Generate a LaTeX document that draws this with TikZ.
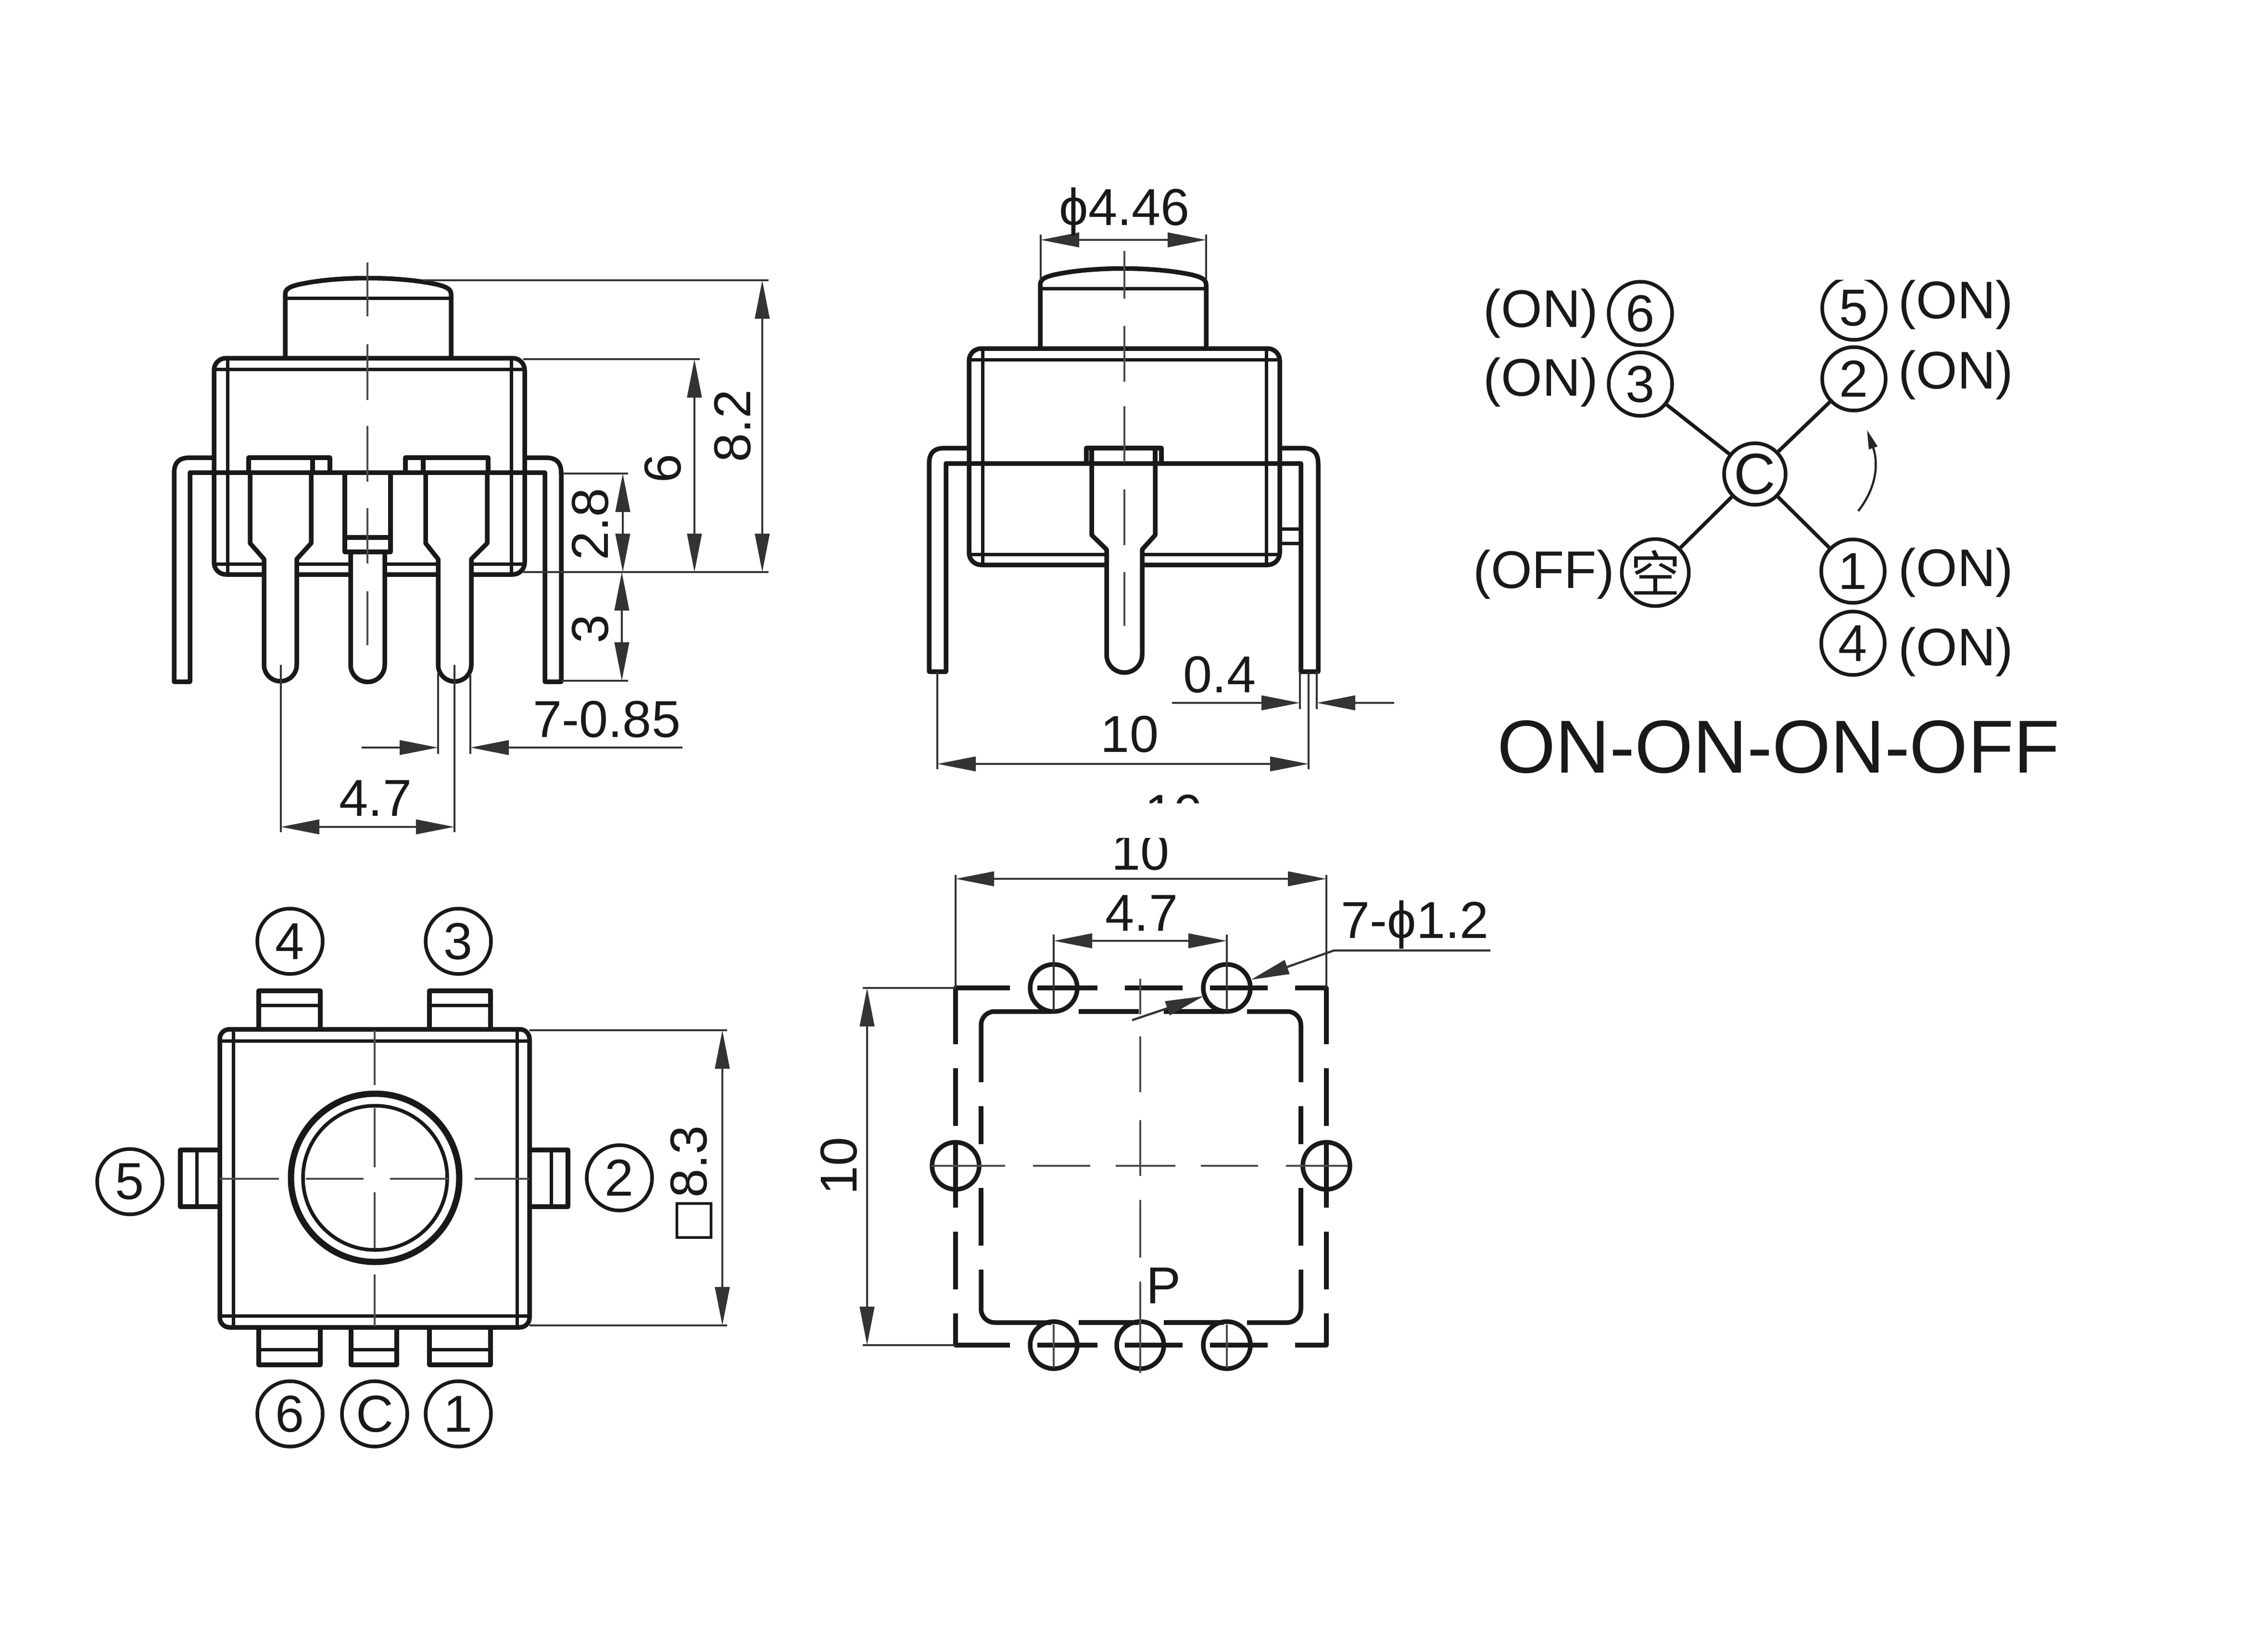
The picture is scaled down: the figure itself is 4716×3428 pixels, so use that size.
\documentclass[tikz,border=0pt]{standalone}
\usepackage{fontspec}
\setmainfont{Liberation Sans}
\newfontfamily\cjk{Noto Sans CJK SC}
\newfontfamily\symfont{DejaVu Sans}
\usetikzlibrary{arrows.meta, positioning}

% housing of the side views, #1 is the top left corner of the body
\newcommand{\housing}[1]{
  \begin{scope}[shift={(#1)}]
    \draw[part, rounded corners=2.5pt] (0,0) rectangle (646,450);
    \draw[part, line width=.7pt] (28,0) -- (28,450) (618,0) -- (618,450) (0,23) -- (646,23) (0,428) -- (646,428);
    \draw[part] (148,0) -- (148,-133) .. controls (148,-145) and (160,-149) .. (175,-153)
      .. controls (255,-171) and (385,-171) .. (465,-153) .. controls (480,-149) and (493,-145) .. (493,-133) -- (493,0);
    \draw[part, line width=.7pt] (148,-125) -- (493,-125);
  \end{scope}
}

\begin{document}
\begin{tikzpicture}[
    x=0.1pt, y=-0.1pt,
    part/.style={line width=.95pt, draw=black!90, line join=round},
    thinln/.style={line width=.45pt, draw=black!80},
    centerln/.style={line width=.45pt, draw=black!70},
    dimln/.style={line width=.45pt, draw=black!80, {Stealth[length=8pt,width=3pt,inset=0pt]}-{Stealth[length=8pt,width=3pt,inset=0pt]}},
    leader/.style={line width=.45pt, draw=black!80, -{Stealth[length=8pt,width=3pt,inset=0pt]}},
    dimtext/.style={inner sep=0pt, text=black!90, font=\fontsize{10.8}{12}\selectfont},
    pinmark/.style={circle, draw=black!90, line width=.75pt, minimum size=13.2pt, inner sep=0pt, text=black!90, font=\fontsize{10.8}{11}\selectfont},
    statetext/.style={inner sep=0pt, text=black!90, font=\fontsize{11}{12}\selectfont},
    wire/.style={line width=.75pt, draw=black!90}
]
\useasboundingbox (0,0) rectangle (4716,3428);
\fill[white] (0,0) rectangle (4716,3428);

% front view
\housing{445,745}
\draw[part, fill=white] (520,983) -- (520,1130) -- (549,1163) -- (549,1383) arc (180:0:34) -- (617,1163) -- (647,1130) -- (647,983);
\draw[part, fill=white] (885,983) -- (885,1130) -- (911,1163) -- (911,1383) arc (180:0:34.5) -- (980,1163) -- (1013,1130) -- (1013,983);
\draw[part, fill=white] (729,1148) -- (729,1383) arc (180:0:35.5) -- (800,1148);
\draw[part] (717,983) -- (717,1148) -- (812,1148) -- (812,983) (717,1118) -- (812,1118);
\draw[part] (517,983) -- (517,952) -- (686,952) -- (686,983) (650,952) -- (650,983);
\draw[part] (843,983) -- (843,952) -- (1015,952) -- (1015,983) (880,952) -- (880,983);
\draw[part] (445,952) -- (395,952) .. controls (372,952) and (362,962) .. (362,985) -- (362,1418) -- (395,1418) -- (395,983) -- (1133,983) -- (1133,1418) -- (1167,1418) -- (1167,985) .. controls (1167,962) and (1157,952) .. (1134,952) -- (1088,952);
\foreach \a/\b in {546/658, 716/832, 886/1002, 1057/1172, 1230/1342}
  \draw[centerln] (764,\a) -- (764,\b);

\draw[thinln] (880,583) -- (1598,583) (1088,747) -- (1455,747) (1088,1190) -- (1598,1190);
\draw[thinln] (1170,985) -- (1306,985) (1167,1416) -- (1306,1416);
\draw[dimln] (1585,583) -- (1585,1190);
\draw[dimln] (1444,747) -- (1444,1190);
\draw[dimln] (1295,985) -- (1295,1190);
\draw[dimln] (1293,1190) -- (1293,1416);
\node[dimtext, rotate=90] (dimA) at (1523,886) {8.2};
\node[dimtext, rotate=90] (dimB) at (1378,974) {6};
\node[dimtext, rotate=90] (dimC) at (1227,1090) {2.8};
\node[dimtext, rotate=90] (dimD) at (1227,1308) {3};

\draw[thinln] (584,1383) -- (584,1731) (945,1383) -- (945,1731) (911,1400) -- (911,1568) (978,1400) -- (978,1568);
\draw[dimln] (584,1720) -- (945,1720);
\draw[leader] (752,1555) -- (911,1555);
\draw[leader] (1419,1555) -- (978,1555);
\node[dimtext] (dimE) at (1262,1496) {7-0.85};
\node[dimtext] (dimF) at (781,1660) {4.7};

% side view
\housing{2015,725}
\draw[part, fill=white] (2270,964) -- (2270,1113) -- (2301,1143) -- (2301,1362) arc (180:0:37) -- (2375,1143) -- (2402,1113) -- (2402,964);
\draw[part] (2259,964) -- (2259,932) -- (2415,932) -- (2415,964) (2270,932) -- (2270,964) (2402,932) -- (2402,964);
\draw[part] (2015,932) -- (1965,932) .. controls (1942,932) and (1932,942) .. (1932,965) -- (1932,1397) -- (1967,1397) -- (1967,964) -- (2705,964) -- (2705,1397) -- (2741,1397) -- (2741,965) .. controls (2741,942) and (2731,932) .. (2708,932) -- (2661,932);
\draw[part, line width=.7pt] (2661,1100) -- (2705,1100) (2661,1130) -- (2705,1130);
\foreach \a/\b in {522/621, 678/794, 845/962, 1018/1134, 1190/1302}
  \draw[centerln] (2338,\a) -- (2338,\b);

\draw[thinln] (2164,488) -- (2164,583) (2508,488) -- (2508,583);
\draw[dimln] (2164,499) -- (2508,499);
\node[dimtext] (dimG) at (2338,441) {ϕ4.46};
\draw[thinln] (1949,1397) -- (1949,1600) (2721,1397) -- (2721,1600) (2703,1397) -- (2703,1475) (2738,1397) -- (2738,1475);
\draw[dimln] (1949,1589) -- (2721,1589);
\draw[leader] (2437,1462) -- (2703,1462);
\draw[leader] (2899,1462) -- (2738,1462);
\node[dimtext] (dimH) at (2536,1403) {0.4};
\node[dimtext] (dimI) at (2349,1527) {10};

% cut off print of a dimension
\begin{scope}
  \clip (2300,1640) rectangle (2600,1670);
  \node[dimtext] (dimJ) at (2441,1691) {10};
\end{scope}

% switching scheme
\node[pinmark, minimum size=12.8pt, font=\fontsize{12}{13}\selectfont] (c) at (3649,986) {C};
\node[pinmark] (n6) at (3411,652) {6};
\node[pinmark] (n3) at (3411,799) {3};
\node[pinmark] (n5) at (3855,641) {5};
\node[pinmark] (n2) at (3855,788) {2};
\node[pinmark, font=\cjk\fontsize{10.4}{11}\selectfont] (off) at (3442,1191) {空};
\node[pinmark] (n1) at (3853,1188) {1};
\node[pinmark] (n4) at (3853,1338) {4};
\draw[wire] (c) -- (n3);
\draw[wire] (c) -- (n2);
\draw[wire] (c) -- (off);
\draw[wire] (c) -- (n1);
\draw[line width=.45pt, draw=black!85, -{Stealth[length=4pt,width=1.8pt,inset=0pt]}] (3864,1063) .. controls (3905,1010) and (3905,960) .. (3882,894);
\node[statetext] (st6) at (3204,652) {(ON)};
\node[statetext] (st3) at (3204,795) {(ON)};
\node[statetext] (stoff) at (3210,1195) {(OFF)};
\node[statetext] (st5) at (4067,634) {(ON)};
\node[statetext] (st2) at (4067,780) {(ON)};
\node[statetext] (st1) at (4067,1191) {(ON)};
\node[statetext] (st4) at (4067,1356) {(ON)};
\fill[white] (3780,530) rectangle (4260,582);
\node[inner sep=0pt, text=black!90, font=\fontsize{15.6}{18}\selectfont] (title) at (3698,1554) {ON-ON-ON-OFF};

% top view
\foreach \a/\b in {538/666, 893/1020} {
  \draw[part] (\a,2141) -- (\a,2061) -- (\b,2061) -- (\b,2141);
  \draw[part, line width=.7pt] (\a,2091) -- (\b,2091);
}
\foreach \a/\b in {538/666, 730/825, 893/1020} {
  \draw[part] (\a,2761) -- (\a,2839) -- (\b,2839) -- (\b,2761);
  \draw[part, line width=.7pt] (\a,2807) -- (\b,2807);
}
\draw[part] (457,2392) -- (375,2392) -- (375,2510) -- (457,2510);
\draw[part, line width=.7pt] (409,2392) -- (409,2510);
\draw[part] (1101,2392) -- (1181,2392) -- (1181,2510) -- (1101,2510);
\draw[part, line width=.7pt] (1146,2392) -- (1146,2510);
\draw[part, rounded corners=2pt] (457,2141) rectangle (1101,2761);
\draw[part, line width=.7pt] (485,2141) -- (485,2761) (1075,2141) -- (1075,2761) (457,2165) -- (1101,2165) (457,2737) -- (1101,2737);
\draw[part, line width=1.3pt] (780,2450) circle (175);
\draw[part, line width=.75pt] (780,2450) circle (150);
\foreach \a/\b in {2143/2257, 2305/2428, 2480/2596, 2651/2759}
  \draw[centerln] (779,\a) -- (779,\b);
\foreach \a/\b in {457/580, 636/756, 811/932, 987/1101}
  \draw[centerln] (\a,2452) -- (\b,2452);
\node[pinmark, minimum size=13.6pt] (top4) at (603,1958) {4};
\node[pinmark, minimum size=13.6pt] (top3) at (953,1958) {3};
\node[pinmark, minimum size=13.6pt] (top5) at (270,2458) {5};
\node[pinmark, minimum size=13.6pt] (top2) at (1288,2450) {2};
\node[pinmark, minimum size=13.6pt] (top6) at (603,2941) {6};
\node[pinmark, minimum size=13.6pt] (topc) at (779,2941) {C};
\node[pinmark, minimum size=13.6pt] (top1) at (953,2941) {1};
\draw[thinln] (1101,2143) -- (1512,2143) (1101,2757) -- (1512,2757);
\draw[dimln] (1502,2143) -- (1502,2757);
\node[dimtext, rotate=90] (dimK) at (1438,2464) {{\symfont\fontsize{10}{12}\selectfont □}8.3};

% footprint
\begin{scope}[rounded corners=2.8pt]
  \draw[part] (2040,2251) -- (2040,2104) -- (2186,2104);
  \draw[part] (2593,2104) -- (2705,2104) -- (2705,2251);
  \draw[part] (2040,2641) -- (2040,2751) -- (2186,2751);
  \draw[part] (2593,2751) -- (2705,2751) -- (2705,2641);
\end{scope}
\foreach \a/\b in {2243/2368, 2420/2545} {
  \draw[part] (\a,2104) -- (\b,2104);
  \draw[part] (\a,2751) -- (\b,2751);
}
\foreach \a/\b in {2301/2380, 2471/2591} {
  \draw[part] (2040,\a) -- (2040,\b);
  \draw[part] (2705,\a) -- (2705,\b);
}
\draw[part] (1987,2172) -- (1987,2055) -- (2100,2055) (2693,2055) -- (2758,2055) -- (2758,2172);
\draw[part] (1987,2732) -- (1987,2798) -- (2100,2798) (2693,2798) -- (2758,2798) -- (2758,2732);
\foreach \a/\b in {2157/2282, 2339/2459, 2516/2636} {
  \draw[part] (\a,2055) -- (\b,2055);
  \draw[part] (\a,2798) -- (\b,2798);
}
\foreach \a/\b in {2222/2342, 2380/2512, 2562/2682} {
  \draw[part] (1987,\a) -- (1987,\b);
  \draw[part] (2758,\a) -- (2758,\b);
}
\foreach \x/\y in {2191/2055, 2551/2055, 1987/2425, 2758/2425, 2191/2798, 2371/2798, 2551/2798}
  \draw[part] (\x,\y) circle (49);
\foreach \a/\b in {1937/2090, 2148/2267, 2320/2444, 2497/2616, 2674/2803}
  \draw[centerln] (\a,2425) -- (\b,2425);
\foreach \a/\b in {2036/2110, 2156/2272, 2330/2446, 2496/2616, 2666/2856}
  \draw[centerln] (2371,\a) -- (2371,\b);
\draw[centerln] (2191,2755) -- (2191,2845) (2551,2755) -- (2551,2845);
\draw[thinln] (1987,1820) -- (1987,2055) (2758,1820) -- (2758,2055);
\draw[dimln] (1987,1828) -- (2758,1828);
\draw[thinln] (2191,1944) -- (2191,2104) (2551,1944) -- (2551,2104);
\draw[dimln] (2191,1957) -- (2551,1957);
\draw[thinln] (1794,2055) -- (1987,2055) (1794,2798) -- (1987,2798);
\draw[dimln] (1803,2055) -- (1803,2798);
\begin{scope}
  \clip (2250,1743) rectangle (2500,1815);
  \node[dimtext] (dimL) at (2372,1772) {10};
\end{scope}
\node[dimtext] (dimM) at (2374,1899) {4.7};
\node[dimtext, rotate=90] (dimN) at (1744,2425) {10};
\node[dimtext] (dimP) at (2420,2674) {P};
\node[dimtext] (dimQ) at (2942,1924) {7-ϕ1.2};
\coordinate (holeA) at (2601,2038);
\coordinate (holeB) at (2503,2072);
\draw[leader] (3099,1977) -- (2774,1977) -- (holeA);
\draw[leader] (2354,2122) -- (holeB);

\end{tikzpicture}
\end{document}
